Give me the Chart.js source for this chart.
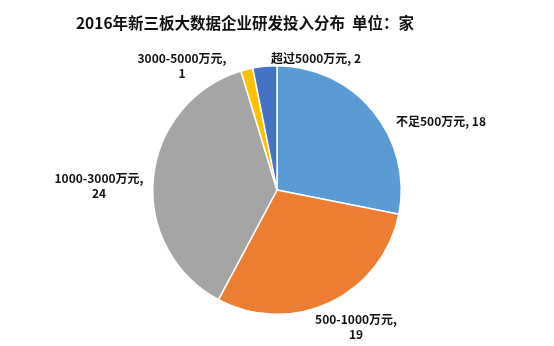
<!DOCTYPE html>
<html>
<head>
<meta charset="utf-8">
<script src="https://cdn.jsdelivr.net/npm/chart.js@4.4.1/dist/chart.umd.min.js"></script>
<style>
  html, body { margin: 0; padding: 0; background: #fff; }
  #wrap { width: 554px; height: 346px; }
</style>
</head>
<body>
<div id="wrap"><canvas id="c" width="554" height="346"></canvas></div>
<script>
const categories = ['不足500万元', '500-1000万元', '1000-3000万元', '3000-5000万元', '超过5000万元'];
const counts = [18, 19, 24, 1, 2];
const colors = ['#5B9BD5', '#ED7D31', '#A5A5A5', '#FFC000', '#4472C4'];
const titleText = '2016年新三板大数据企业研发投入分布  单位：家';

// where each data label sits (text lines, x, y, align)
const labelSpots = [
  { x: 396, y: 121, align: 'left', lines: [categories[0] + ', ' + counts[0]] },
  { x: 356, y: 319, align: 'center', lines: [categories[1] + ',', String(counts[1])] },
  { x: 99, y: 178, align: 'center', lines: [categories[2] + ',', String(counts[2])] },
  { x: 182, y: 58, align: 'center', lines: [categories[3] + ',', String(counts[3])] },
  { x: 271, y: 58, align: 'left', lines: [categories[4] + ', ' + counts[4]] }
];

const FONT = '"Noto Sans CJK SC", "Noto Sans", sans-serif';

const textPlugin = {
  id: 'texts',
  afterDraw(chart) {
    const ctx = chart.ctx;
    ctx.save();
    ctx.fillStyle = '#111';
    ctx.textBaseline = 'middle';
    ctx.font = 'bold 15.5px ' + FONT;
    ctx.textAlign = 'center';
    ctx.fillText(titleText, 245, 23);
    ctx.font = 'bold 12px ' + FONT;
    labelSpots.forEach(s => {
      ctx.textAlign = s.align;
      s.lines.forEach((t, i) => ctx.fillText(t, s.x, s.y + i * 15));
    });
    ctx.restore();
  }
};

new Chart(document.getElementById('c'), {
  type: 'pie',
  data: {
    labels: categories,
    datasets: [{
      data: counts,
      backgroundColor: colors,
      borderColor: '#ffffff',
      borderWidth: 1.5
    }]
  },
  options: {
    responsive: false,
    animation: false,
    layout: { padding: { top: 65, bottom: 31, left: 152, right: 152 } },
    plugins: {
      legend: { display: false },
      tooltip: { enabled: false },
      title: { display: false }
    }
  },
  plugins: [textPlugin]
});
</script>
</body>
</html>
